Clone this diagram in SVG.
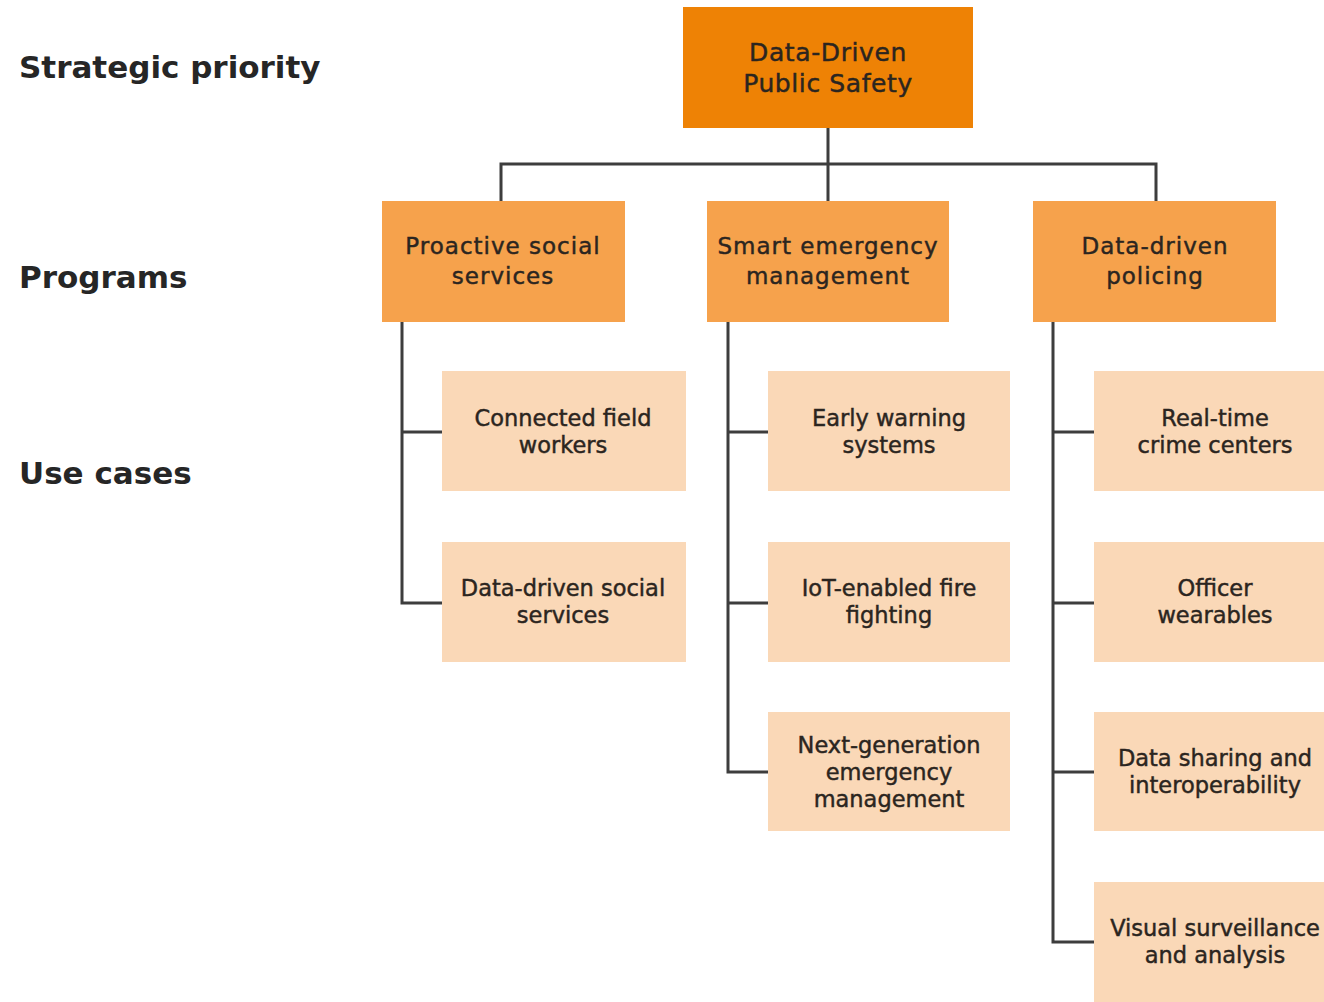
<svg xmlns="http://www.w3.org/2000/svg" width="1324" height="1002" viewBox="0 0 1324 1002">
  <style>
    .lbl { font-family: "DejaVu Sans", "Liberation Sans", sans-serif; font-size: 31px; font-weight: bold; fill: #262626; }
    .t { font-family: "DejaVu Sans", "Liberation Sans", sans-serif; font-size: 22.5px; fill: #2b2520; stroke: #2b2520; stroke-width: 0.45; text-anchor: middle; }
    .t.p { font-size: 23px; letter-spacing: 1px; }
    .t.s { font-size: 25px; letter-spacing: 0.6px; }
    .top { fill: #EE8205; }
    .prog { fill: #F6A24C; }
    .uc { fill: #FAD8B7; }
    .conn { fill: none; stroke: #3d3d3d; stroke-width: 3; }
  </style>
  <rect width="1324" height="1002" fill="#ffffff"/>

  <!-- level labels -->
  <text class="lbl" x="19" y="78">Strategic priority</text>
  <text class="lbl" x="19" y="288">Programs</text>
  <text class="lbl" x="19" y="484">Use cases</text>

  <!-- connectors -->
  <g id="connectors">
    <path class="conn" d="M828 128 V201 M501 201 V164 H1156 V201"/>
    <path class="conn" d="M402 322 V603 H442 M402 432 H442"/>
    <path class="conn" d="M728 322 V772 H768 M728 432 H768 M728 603 H768"/>
    <path class="conn" d="M1053 322 V942 H1094 M1053 432 H1094 M1053 603 H1094 M1053 772 H1094"/>
  </g>

  <!-- strategic priority -->
  <g id="n-priority">
    <rect class="top" x="683" y="7" width="290" height="121"/>
    <text class="t s" x="828" y="61">Data-Driven</text>
    <text class="t s" x="828" y="92">Public Safety</text>
  </g>

  <!-- programs -->
  <g id="n-proactive">
    <rect class="prog" x="382" y="201" width="243" height="121"/>
    <text class="t p" x="503" y="254">Proactive social</text>
    <text class="t p" x="503" y="284">services</text>
  </g>
  <g id="n-emergency">
    <rect class="prog" x="707" y="201" width="242" height="121"/>
    <text class="t p" x="828" y="254">Smart emergency</text>
    <text class="t p" x="828" y="284">management</text>
  </g>
  <g id="n-policing">
    <rect class="prog" x="1033" y="201" width="243" height="121"/>
    <text class="t p" x="1155" y="254">Data-driven</text>
    <text class="t p" x="1155" y="284">policing</text>
  </g>

  <!-- use cases: social services -->
  <g id="n-field-workers">
    <rect class="uc" x="442" y="371" width="244" height="120"/>
    <text class="t" x="563" y="426">Connected field</text>
    <text class="t" x="563" y="453">workers</text>
  </g>
  <g id="n-social-services">
    <rect class="uc" x="442" y="542" width="244" height="120"/>
    <text class="t" x="563" y="596">Data-driven social</text>
    <text class="t" x="563" y="623">services</text>
  </g>

  <!-- use cases: emergency management -->
  <g id="n-early-warning">
    <rect class="uc" x="768" y="371" width="242" height="120"/>
    <text class="t" x="889" y="426">Early warning</text>
    <text class="t" x="889" y="453">systems</text>
  </g>
  <g id="n-fire-fighting">
    <rect class="uc" x="768" y="542" width="242" height="120"/>
    <text class="t" x="889" y="596">IoT-enabled fire</text>
    <text class="t" x="889" y="623">fighting</text>
  </g>
  <g id="n-next-gen">
    <rect class="uc" x="768" y="712" width="242" height="119"/>
    <text class="t" x="889" y="753">Next-generation</text>
    <text class="t" x="889" y="780">emergency</text>
    <text class="t" x="889" y="807">management</text>
  </g>

  <!-- use cases: policing -->
  <g id="n-crime-centers">
    <rect class="uc" x="1094" y="371" width="242" height="120"/>
    <text class="t" x="1215" y="426">Real-time</text>
    <text class="t" x="1215" y="453">crime centers</text>
  </g>
  <g id="n-wearables">
    <rect class="uc" x="1094" y="542" width="242" height="120"/>
    <text class="t" x="1215" y="596">Officer</text>
    <text class="t" x="1215" y="623">wearables</text>
  </g>
  <g id="n-data-sharing">
    <rect class="uc" x="1094" y="712" width="242" height="119"/>
    <text class="t" x="1215" y="766">Data sharing and</text>
    <text class="t" x="1215" y="793">interoperability</text>
  </g>
  <g id="n-surveillance">
    <rect class="uc" x="1094" y="882" width="242" height="125"/>
    <text class="t" x="1215" y="936">Visual surveillance</text>
    <text class="t" x="1215" y="963">and analysis</text>
  </g>
</svg>
